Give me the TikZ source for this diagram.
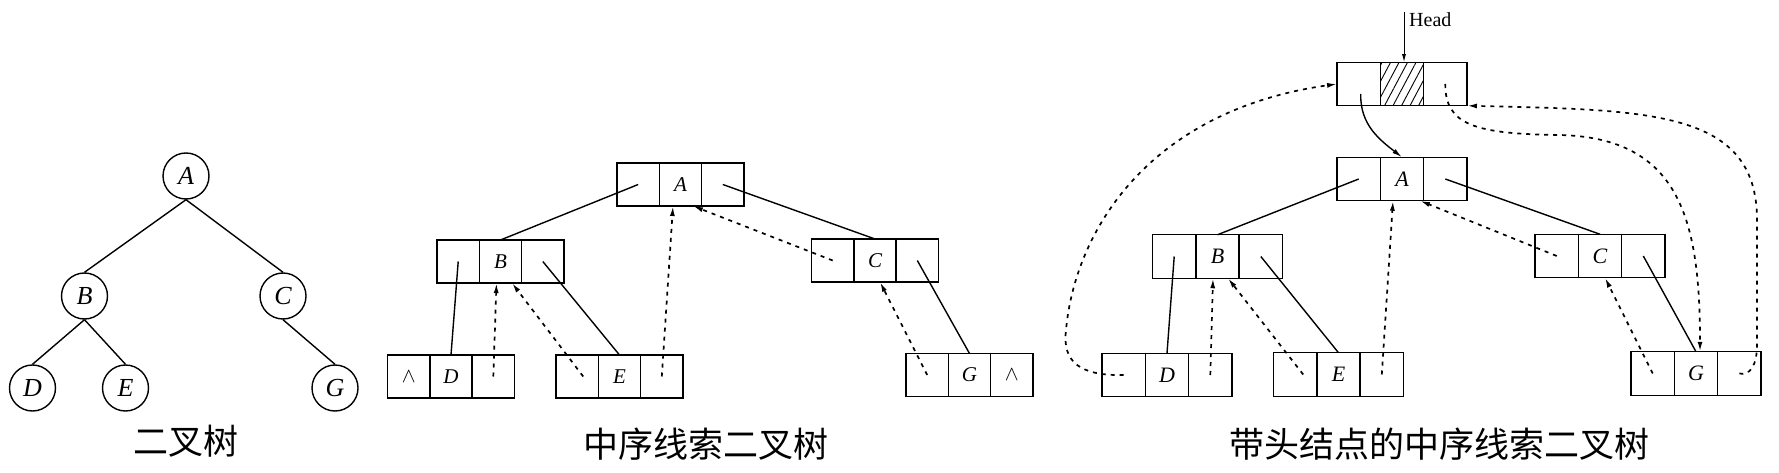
\documentclass[tikz,border=0pt]{standalone}
\usepackage{fontspec}
\setmainfont{Liberation Serif}
\newfontfamily\cjk{Noto Sans CJK SC}
\usetikzlibrary{arrows.meta,positioning,calc,patterns.meta}
\tikzset{
  circ/.style={circle, draw, line width=1.4pt, minimum size=46pt, inner sep=0pt, font=\fontsize{26}{30}\selectfont\itshape},
  cellm/.style={draw, line width=1.4pt, minimum width=42.3pt, minimum height=43pt, inner sep=0pt, outer sep=0pt, font=\fontsize{21}{25}\selectfont\itshape},
  cellr/.style={cellm, minimum width=43.3pt, minimum height=43.5pt, font=\fontsize{22}{26}\selectfont\itshape},
  edge/.style={line width=1.4pt},
  thread/.style={line width=1.7pt, dash pattern=on 4pt off 5pt, -{Latex[length=10pt,width=5pt]}},
  captext/.style={font=\fontsize{35}{40}\cjk, anchor=base, inner sep=0pt},
}
% style, name, position, left, middle, right
\newcommand{\tripbox}[6]{%
  \node[#1] (#2-m) at (#3) {#5};
  \node[#1, left=0pt of #2-m] (#2-l) {#4};
  \node[#1, right=0pt of #2-m] (#2-r) {#6};
}
\newcommand{\nil}{\upshape\fontsize{22}{26}\selectfont$\wedge$}
\begin{document}
\begin{tikzpicture}[x=1pt,y=-1pt]
\useasboundingbox (0,0) rectangle (1779,473);

% ---------- binary tree ----------
\node[circ] (A) at (186,176) {A};
\node[circ] (B) at (84.5,296) {B};
\node[circ] (C) at (283,296) {C};
\node[circ] (D) at (32.5,388) {D};
\node[circ] (E) at (125.5,388) {E};
\node[circ] (G) at (335,388) {G};
\draw[edge] (A.south) -- (B.north);
\draw[edge] (A.south) -- (C.north);
\draw[edge] (B.south) -- (D.north);
\draw[edge] (B.south) -- (E.north);
\draw[edge] (C.south) -- (G.north);
\node[captext] (cap1) at (186,454) {二叉树};

% ---------- in-order threaded tree ----------
\tripbox{cellm}{mA}{680.5,184.5}{}{A}{}
\tripbox{cellm}{mB}{500.5,261.5}{}{B}{}
\tripbox{cellm}{mC}{875,260.5}{}{C}{}
\tripbox{cellm}{mD}{451,376.5}{\nil}{D}{}
\tripbox{cellm}{mE}{619.5,376.5}{}{E}{}
\tripbox{cellm}{mG}{969.5,375}{}{G}{\nil}
\draw[edge] (mA-l.center) -- (mB-m.north);
\draw[edge] (mA-r.center) -- (mC-m.north);
\draw[edge] (mB-l.center) -- (mD-m.north);
\draw[edge] (mB-r.center) -- (mE-m.north);
\draw[edge] (mC-r.center) -- (mG-m.north);
\draw[thread] (mD-r.center) -- ($(mB-m.south)+(-4,0)$);
\draw[thread] ($(mE-l.center)+(6,0)$) -- ($(mB-m.south)+(11.5,0)$);
\draw[thread] (mE-r.center) -- ($(mA-m.south)+(-7.5,0)$);
\draw[thread] (mC-l.center) -- ($(mA-m.south)+(12.5,0)$);
\draw[thread] (mG-l.center) -- ($(mC-m.south)+(5,0)$);
\node[captext] (cap2) at (706,457) {中序线索二叉树};

% ---------- threaded tree with head node ----------
\tripbox{cellr}{rA}{1402,179}{}{A}{}
\tripbox{cellr}{rB}{1217.5,256.5}{}{B}{}
\tripbox{cellr}{rC}{1600,256}{}{C}{}
\tripbox{cellr}{rD}{1167,375}{}{D}{}
\tripbox{cellr}{rE}{1338.5,374.5}{}{E}{}
\tripbox{cellr}{rG}{1696,373.5}{}{G}{}
\node[cellr, pattern={Lines[angle=62,distance=7.5pt,line width=0.9pt]}] (rH-m) at (1402,84) {};
\node[cellr, left=0pt of rH-m] (rH-l) {};
\node[cellr, right=0pt of rH-m] (rH-r) {};

\coordinate (hd) at ($(rH-m.north)+(2,-50)$);
\draw[line width=1pt, -{Latex[length=8pt,width=4pt]}] (hd) -- ($(rH-m.north)+(2,0)$);
\node[anchor=base west, inner sep=0pt, font=\fontsize{20}{24}\selectfont] (headlbl) at (1409,27) {Head};

\draw[edge, -{Latex[length=10pt,width=5pt]}] ($(rH-l.center)+(2,10)$) .. controls (1360,125) and (1380,140) .. (rA-m.north);

\draw[edge] (rA-l.center) -- (rB-m.north);
\draw[edge] (rA-r.center) -- (rC-m.north);
\draw[edge] (rB-l.center) -- (rD-m.north);
\draw[edge] (rB-r.center) -- (rE-m.north);
\draw[edge] (rC-r.center) -- (rG-m.north);

\draw[thread] (rD-r.center) -- ($(rB-m.south)+(-4.5,0)$);
\draw[thread] ($(rE-l.center)+(8,0)$) -- ($(rB-m.south)+(10.5,0)$);
\draw[thread] (rE-r.center) -- ($(rA-m.south)+(-9,0)$);
\draw[thread] (rC-l.center) -- ($(rA-m.south)+(18,0)$);
\draw[thread] (rG-l.center) -- ($(rC-m.south)+(5,0)$);

\draw[thread] (rD-l.center) .. controls (1080,376) and (1062,362) .. (1066,330)
   .. controls (1075,230) and (1150,110) .. (rH-l.west);
\draw[thread] (rH-r.center) .. controls (1445,125) and (1475,134) .. (1560,135)
   .. controls (1680,138) and (1700,220) .. ($(rG-m.north)+(4,0)$);
\draw[thread] (rG-r.center) .. controls (1750,376) and (1757,365) .. (1757,345)
   -- (1757,220) .. controls (1757,110) and (1650,110) .. (rH-r.south east);

\node[captext] (cap3) at (1439,457) {带头结点的中序线索二叉树};
\end{tikzpicture}
\end{document}
